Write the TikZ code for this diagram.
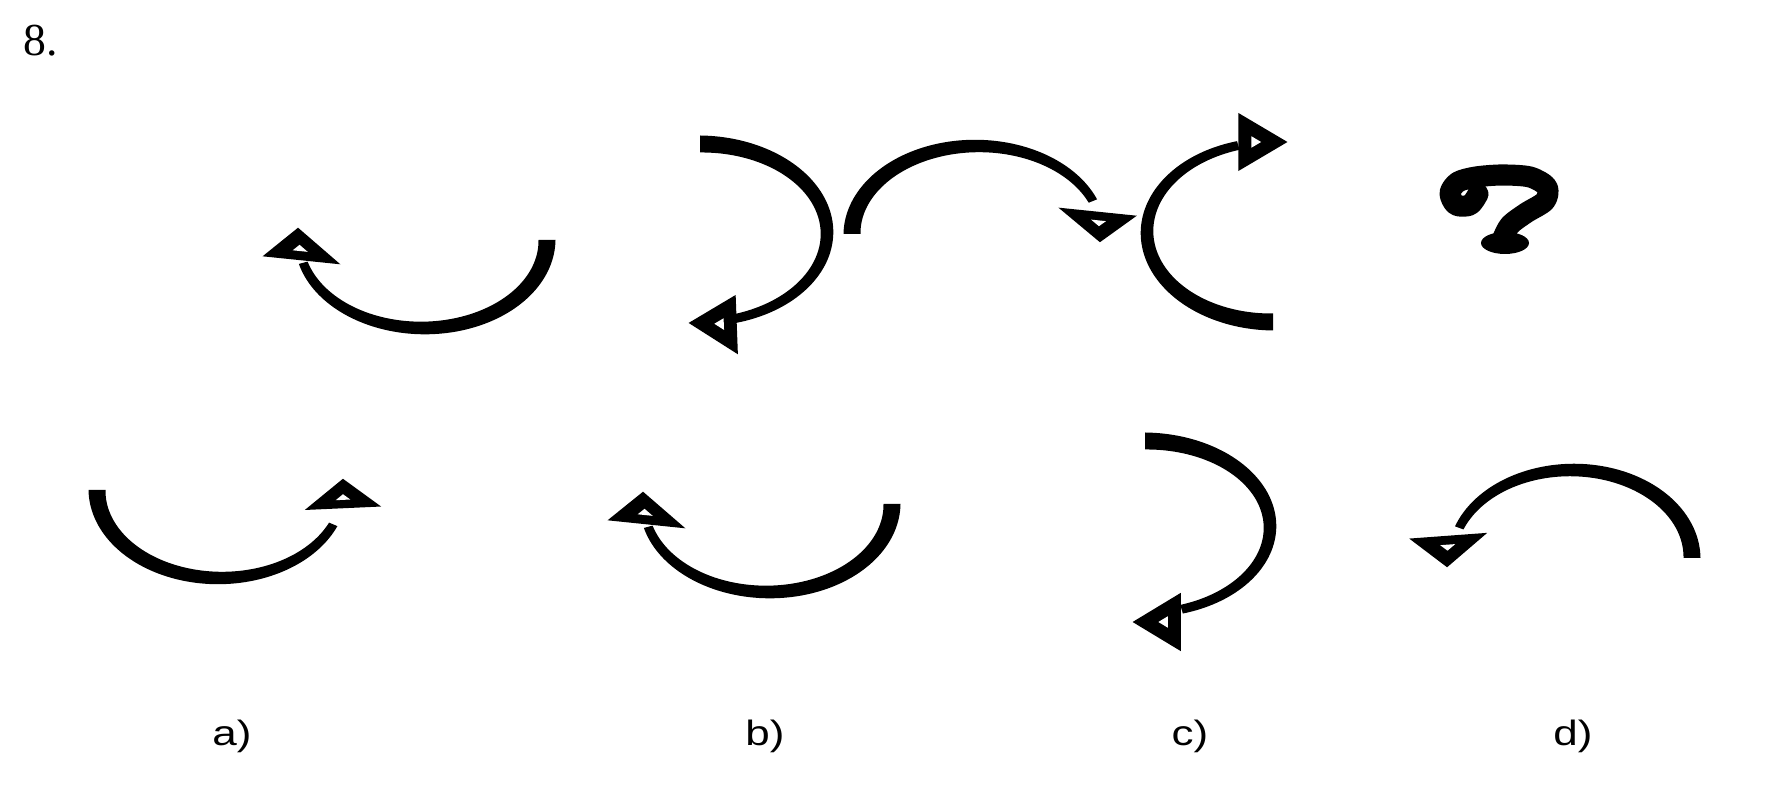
\documentclass[tikz,border=0pt]{standalone}
\usepackage{fontspec}
\setmainfont{Liberation Serif}
\newfontfamily\lsans{Liberation Sans}
\usetikzlibrary{calc}
% tapered elliptic arc: cx, cy, rx, ry, start angle, end angle, start width, end width
\newcommand\myarc[8]{%
\fill[black] plot[domain=#5:#6,samples=80,variable=\t]
 ({#1+(#3+0.5*(#7+(#8-#7)*(\t-(#5))/((#6)-(#5))))*cos(\t)},
  {#2+(#4+0.5*(#7+(#8-#7)*(\t-(#5))/((#6)-(#5))))*sin(\t)})
 -- plot[domain=#6:#5,samples=80,variable=\t]
 ({#1+(#3-0.5*(#7+(#8-#7)*(\t-(#5))/((#6)-(#5))))*cos(\t)},
  {#2+(#4-0.5*(#7+(#8-#7)*(\t-(#5))/((#6)-(#5))))*sin(\t)})
 -- cycle;}
% arrow head: three vertices
\newcommand\myhead[3]{%
\coordinate (h1) at (#1);
\coordinate (h2) at (#2);
\coordinate (h3) at (#3);
\fill[black,draw=black,line width=1pt,line join=miter] (h1)--(h2)--(h3)--cycle;
\coordinate (hc) at (barycentric cs:h1=1,h2=1,h3=1);
\fill[white] ($(hc)!0.22!(h1)$)--($(hc)!0.22!(h2)$)--($(hc)!0.22!(h3)$)--cycle;}
\tikzset{lab/.style={anchor=base,inner sep=0pt,font=\lsans\fontsize{10}{12}\selectfont,xscale=1.25}}
\begin{document}
\begin{tikzpicture}[x=0.01cm,y=-0.01cm]
\useasboundingbox[fill=white] (0,0) rectangle (1772,810);
\node[anchor=base west,inner sep=0pt,font=\fontsize{13}{15}\selectfont] (n8) at (23,56) {8.};
% top row
\myarc{423}{240}{124}{88}{0}{165}{17}{9}
\myhead{267,255}{298,230}{335,262}
\myarc{700}{233}{127}{89}{-90}{74}{17}{9}
\myhead{692,323}{734,298}{736,351}
\myarc{977}{234}{125}{88}{180}{338}{17}{9}
\myhead{1064,210}{1132,217}{1100,240}
\myarc{1273}{232}{126}{90}{90}{254}{17}{9}
\myhead{1240,116}{1284,142}{1240,168}
% question mark
\draw[line width=6pt,line cap=round,line join=round] plot[smooth] coordinates
 {(1478,194) (1470,205) (1456,205) (1450,193) (1458,182) (1476,177) (1502,175) (1530,177) (1547,187) (1545,201) (1526,213) (1510,225) (1503,238)};
\fill (1505,243) ellipse [x radius=24, y radius=11];
% bottom row
\myarc{220}{490}{123}{88}{180}{23}{17}{9}
\myhead{310,508}{343,481}{376,505}
\myarc{768}{504}{124}{88}{0}{165}{17}{9}
\myhead{612,519}{643,494}{680,526}
\myarc{1145}{527}{125}{86}{-90}{73}{17}{9}
\myhead{1136,622}{1179,596}{1179,648}
\myarc{1572}{558}{120}{88}{0}{-160}{17}{9}
\myhead{1414,540}{1482,535}{1447,565}
% labels
\node[lab] (la) at (232,746) {a)};
\node[lab] (lb) at (765,746) {b)};
\node[lab] (lc) at (1190,746) {c)};
\node[lab] (ld) at (1573,746) {d)};
\end{tikzpicture}
\end{document}
